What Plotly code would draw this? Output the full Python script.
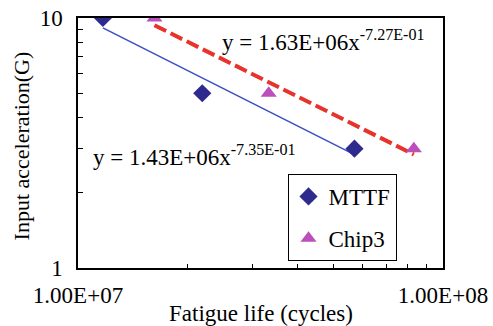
import plotly.graph_objects as go

# Data
mttf_life = [1.17e7, 2.19e7, 5.72e7]
mttf_acc = [10.0, 5.0, 3.0]
chip3_life = [1.62e7, 3.33e7, 8.32e7]
chip3_acc = [10.0, 5.0, 3.0]

# Power trendline coefficients shown on the chart: y = a * x^b
mttf_fit = (1.43e6, -0.735)
chip3_fit = (1.63e6, -0.727)

x_ticks = [1e7, 1e8]
x_ticktext = ["1.00E+07", "1.00E+08"]
y_ticks = [1, 10]
y_ticktext = ["1", "10"]

def fit_line(xs, coef):
    a, b = coef
    ends = [min(xs), max(xs)]
    return ends, [a * x ** b for x in ends]

font_family = "Liberation Serif"
FS = 23
fig = go.Figure()

lx, ly = fit_line(mttf_life, mttf_fit)
fig.add_trace(go.Scatter(x=lx, y=ly, mode="lines", showlegend=False,
                         line=dict(color="#3a4fc0", width=1.5)))
lx, ly = fit_line(chip3_life, chip3_fit)
fig.add_trace(go.Scatter(x=lx, y=ly, mode="lines", showlegend=False,
                         line=dict(color="#e8332a", width=4, dash="13px,5px")))

fig.add_trace(go.Scatter(x=mttf_life, y=mttf_acc, mode="markers", name="MTTF",
                         legendgroup="a",
                         marker=dict(symbol="diamond", size=14, color="#2f2a8e")))
fig.add_trace(go.Scatter(x=chip3_life, y=chip3_acc, mode="markers", name="Chip3",
                         legendgroup="b",
                         marker=dict(symbol="triangle-up", size=14, color="#bb4fbb")))

minor_x = [k * 1e7 for k in range(1, 11)]
minor_y = list(range(1, 11))

fig.update_xaxes(type="log", range=[7, 8], showgrid=False, zeroline=False, automargin=False,
                 showline=True, mirror=True, linecolor="black", linewidth=1.5,
                 ticks="inside", ticklen=4, tickcolor="black", tickwidth=1,
                 tickvals=minor_x, ticklabelstandoff=6,
                 ticktext=[x_ticktext[x_ticks.index(v)] if v in x_ticks else "" for v in minor_x],
                 tickfont=dict(family=font_family, size=FS, color="black"))
fig.update_yaxes(type="log", range=[0, 1], showgrid=False, zeroline=False, automargin=False,
                 showline=True, mirror=True, linecolor="black", linewidth=1.5,
                 ticks="inside", ticklen=5, tickcolor="black", tickwidth=1,
                 tickvals=minor_y, ticklabelstandoff=9,
                 ticktext=[y_ticktext[y_ticks.index(v)] if v in y_ticks else "" for v in minor_y],
                 tickfont=dict(family=font_family, size=FS, color="black"))

# axis titles
fig.add_annotation(x=0.5, y=-0.18, xref="paper", yref="paper", showarrow=False,
                   text="Fatigue life (cycles)", xanchor="center", yanchor="middle",
                   font=dict(family=font_family, size=FS, color="black"))
fig.add_annotation(x=-0.155, y=0.488, xref="paper", yref="paper", showarrow=False,
                   text="Input acceleration(G)", textangle=-90, xanchor="center", yanchor="middle",
                   font=dict(family=font_family, size=22, color="black"))

fig.add_annotation(x=0.673, y=0.908, xref="paper", yref="paper", showarrow=False,
                   xanchor="center", yanchor="middle",
                   text="y = 1.63E+06x<sup>-7.27E-01</sup>",
                   font=dict(family=font_family, size=23, color="black"))
fig.add_annotation(x=0.32, y=0.452, xref="paper", yref="paper", showarrow=False,
                   xanchor="center", yanchor="middle",
                   text="y = 1.43E+06x<sup>-7.35E-01</sup>",
                   font=dict(family=font_family, size=23, color="black"))

fig.update_layout(
    width=493, height=326,
    margin=dict(l=78, r=50, t=18, b=58, autoexpand=False),
    paper_bgcolor="white", plot_bgcolor="white",
    legend=dict(x=0.574, y=0.376, xanchor="left", yanchor="top",
                bordercolor="black", borderwidth=1, bgcolor="white",
                traceorder="grouped",
                font=dict(family=font_family, size=FS, color="black"),
                tracegroupgap=9, itemwidth=30),
)

fig.write_html("out.html")
